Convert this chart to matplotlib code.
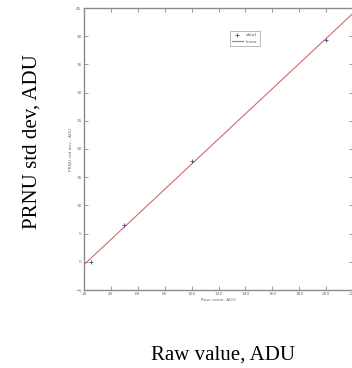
import numpy as np
import matplotlib
matplotlib.use("Agg")
import matplotlib.pyplot as plt

# Measured PRNU standard deviation versus raw signal level
raw_value = [25, 50, 100, 200]
prnu_std = [0.0, 6.5, 17.9, 39.3]
x_ticks = [20, 40, 60, 80, 100, 120, 140, 160, 180, 200, 220]
y_ticks = [-5, 0, 5, 10, 15, 20, 25, 30, 35, 40, 45]

fig = plt.figure(figsize=(3.52, 3.68), dpi=100)
fig.patch.set_facecolor("white")

ax = fig.add_axes([84 / 352, 1 - 290 / 368, 269 / 352, (290 - 8) / 368])

# least-squares linear fit through the measurements
slope, intercept = np.polyfit(raw_value, prnu_std, 1)
fit_x = np.array([x_ticks[0], x_ticks[-1]])
ax.plot(fit_x, slope * fit_x + intercept, color="#d46a6a", lw=0.8, label="linear")
ax.plot(raw_value, prnu_std, linestyle="none", marker="+", color="#3a4a8a",
        markersize=3.5, mew=0.6, label="data1")

ax.set_xlim(x_ticks[0], x_ticks[-1])
ax.set_ylim(y_ticks[0], y_ticks[-1])
ax.set_xticks(x_ticks)
ax.set_yticks(y_ticks)

grey = "#8a8a8a"
for s in ax.spines.values():
    s.set_color(grey)
    s.set_linewidth(1.0)
ax.tick_params(direction="in", length=3, width=0.6, color=grey,
               labelsize=3.2, labelcolor="#707070", pad=1.5,
               top=True, right=True)

ax.set_xlabel("Raw value, ADU", fontsize=3.2, color="#707070", labelpad=1.5)
ax.set_ylabel("PRNU std dev , ADU", fontsize=3.2, color="#707070", labelpad=2)

handles, labels = ax.get_legend_handles_labels()
leg = ax.legend(handles[::-1], labels[::-1], loc="upper left",
                bbox_to_anchor=((228 - 84) / 269, 1 - (29 - 8) / 282),
                fontsize=3, frameon=True, fancybox=False, handlelength=2.5,
                borderpad=0.5, labelspacing=0.6, handletextpad=0.8)
leg.get_frame().set_edgecolor("#999999")
leg.get_frame().set_linewidth(0.6)
for t in leg.get_texts():
    t.set_color("#606060")

# outer figure labels in a serif face
fig.text(32 / 352, 1 - 142 / 368, "PRNU std dev, ADU", rotation=90,
         ha="center", va="center", fontsize=15, family="Liberation Serif")
fig.text(223 / 352, 1 - 355 / 368, "Raw value, ADU",
         ha="center", va="center", fontsize=15, family="Liberation Serif")

fig.savefig("out.png", dpi=100, facecolor="white")
